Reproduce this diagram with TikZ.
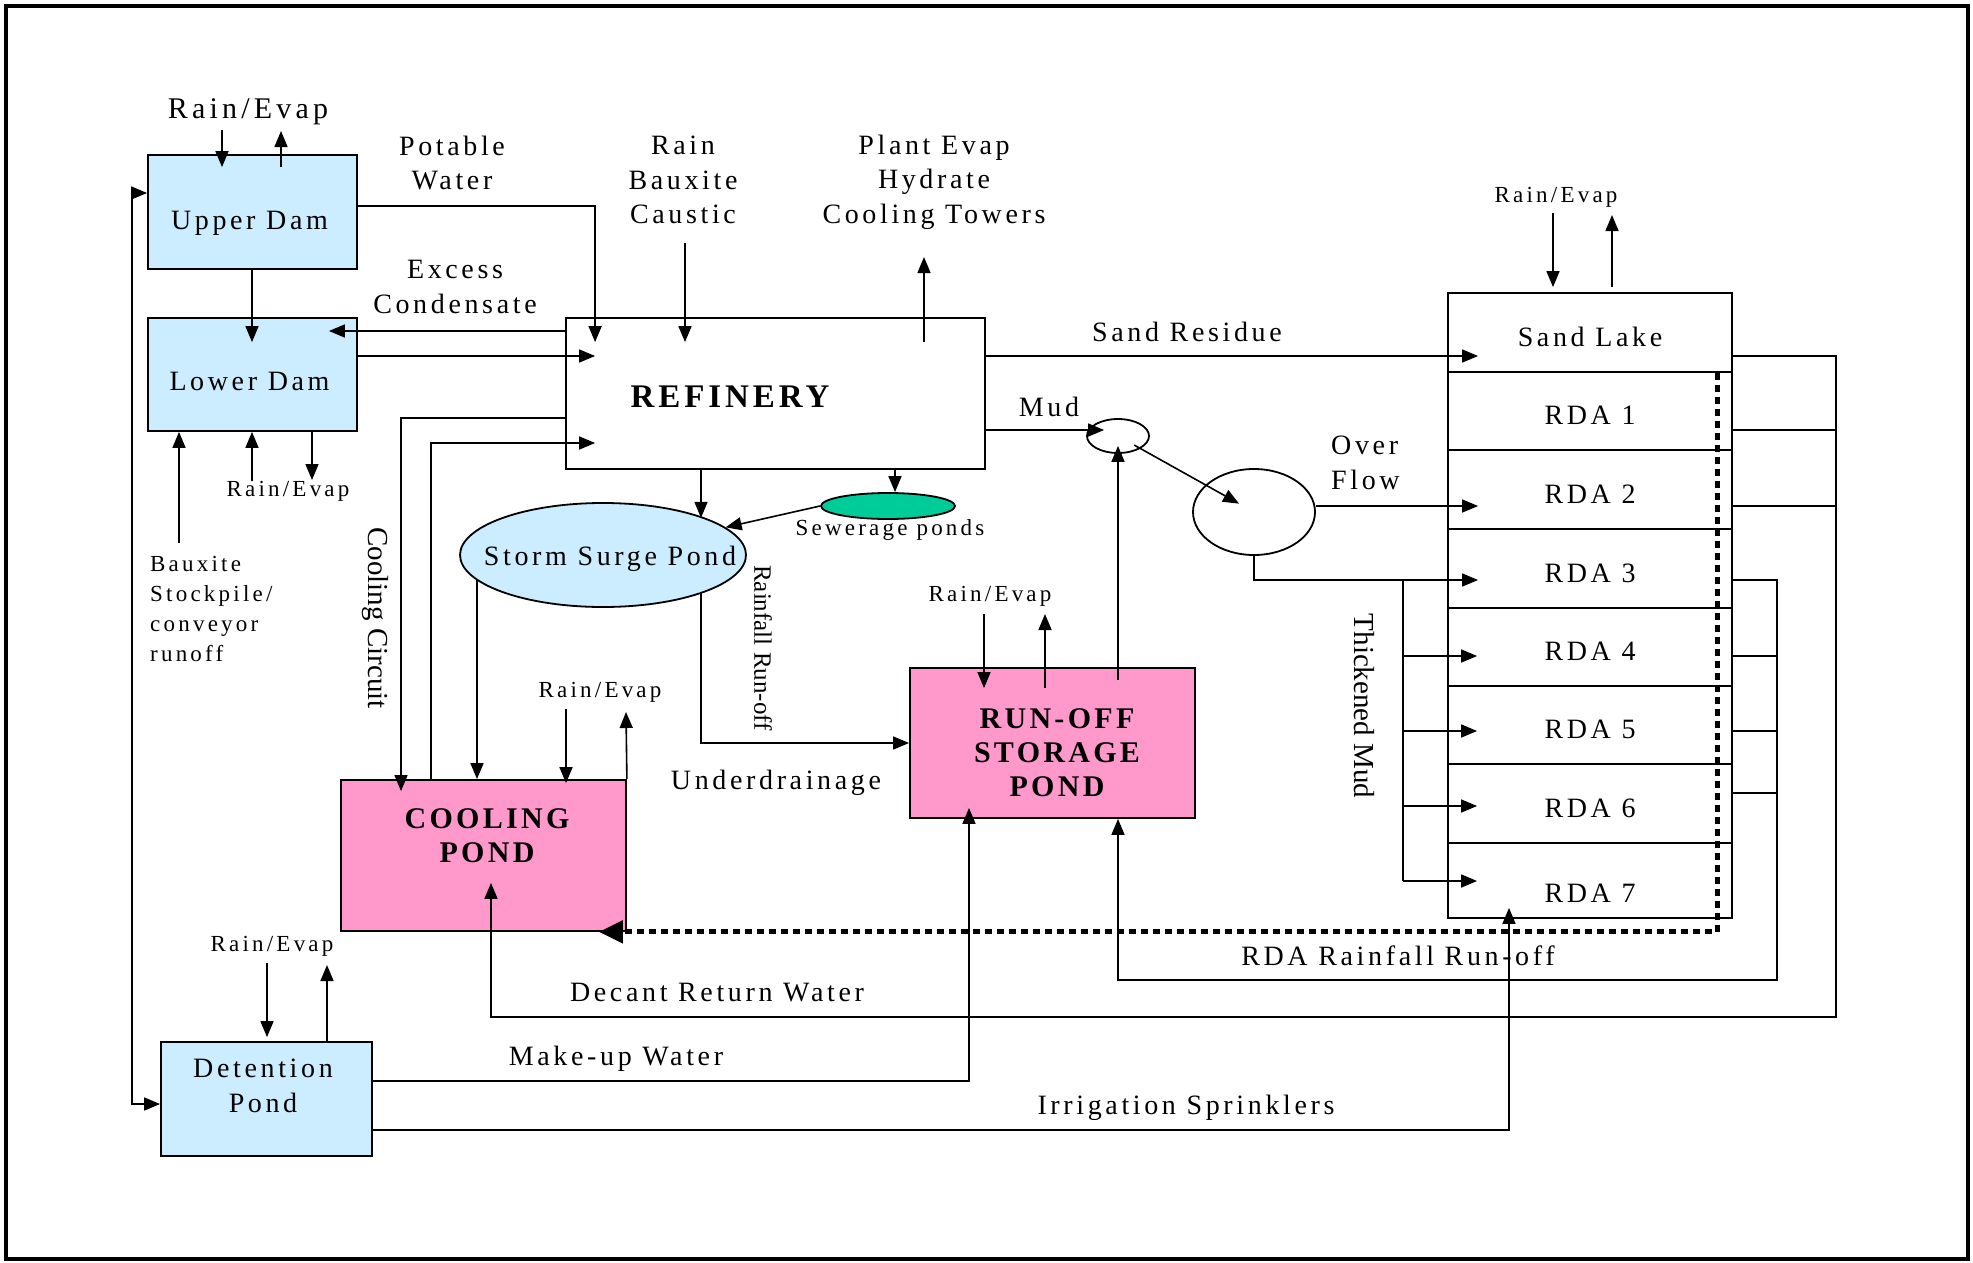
\documentclass[tikz,border=0pt]{standalone}
\usepackage{fontspec}
\setmainfont{Liberation Serif}
\newfontfamily\fbig[LetterSpace=13]{Liberation Serif}
\newfontfamily\fsmall[LetterSpace=14]{Liberation Serif}
\newfontfamily\fbold[LetterSpace=11]{Liberation Serif}
\newfontfamily\frefine[LetterSpace=12]{Liberation Serif}
\usetikzlibrary{arrows.meta,shapes.geometric,calc}
\definecolor{lblue}{HTML}{CCECFF}
\definecolor{pondpink}{HTML}{FF99CC}
\definecolor{sewgreen}{HTML}{00CC99}
\tikzset{
  conn/.style={line width=1.6pt},
  arr/.style={conn, -{Triangle[length=16pt,width=13pt]}},
  arrboth/.style={conn, {Triangle[length=16pt,width=13pt]}-{Triangle[length=16pt,width=13pt]}},
  dotarr/.style={line width=5pt, dash pattern=on 7pt off 5pt, -{Triangle[length=24pt,width=22pt]}},
  boxshape/.style={draw, line width=1.8pt, inner sep=0pt},
  bigtxt/.style={inner sep=0pt, align=center, font=\fbig\fontsize{28}{34.5}\selectfont},
  smalltxt/.style={inner sep=0pt, align=center, font=\fsmall\fontsize{23}{30}\selectfont},
  boldtxt/.style={inner sep=0pt, align=center, font=\fbold\bfseries\fontsize{30}{34}\selectfont},
  plaintxt/.style={inner sep=0pt, font=\fontsize{29}{32}\selectfont},
  rdarow/.style={boxshape, minimum width=284pt, text height=27pt, text depth=0pt, font=\fbig\fontsize{28}{34.5}\selectfont},
}
\begin{document}
\begin{tikzpicture}[x=1pt,y=-1pt]
\useasboundingbox (0,0) rectangle (1973,1263);
\fill[white] (0,0) rectangle (1973,1263);
\draw[line width=4pt] (6,6) rectangle (1968,1259);

% ---------- boxes ----------
\node[boxshape, fill=lblue, minimum width=209pt, minimum height=114pt, text height=34.5pt, text depth=0pt, font=\fbig\fontsize{28}{34.5}\selectfont] (upper) at (252.5,212) {Upper Dam\hspace*{6pt}};
\node[boxshape, fill=lblue, minimum width=209pt, minimum height=113pt, text height=32.5pt, text depth=0pt, font=\fbig\fontsize{28}{34.5}\selectfont] (lower) at (252.5,374.5) {Lower Dam\hspace*{6pt}};
\node[boxshape, fill=white, minimum width=419pt, minimum height=151pt] (refinery) at (775.5,393.5) {};
\node[inner sep=0pt, font=\frefine\bfseries\fontsize{33}{36}\selectfont] (reflabel) at (730,397) {REFINERY};
\node[boxshape, ellipse, fill=lblue, minimum width=286pt, minimum height=104pt] (storm) at (603,555) {};
\node[bigtxt] (stormlabel) at (610,559) {Storm Surge Pond};
\node[boxshape, ellipse, fill=sewgreen, minimum width=134pt, minimum height=26pt] (sew) at (888,506) {};
\node[boxshape, ellipse, minimum width=62pt, minimum height=34pt] (mix) at (1118,436) {};
\node[boxshape, ellipse, minimum width=122pt, minimum height=86pt] (thick) at (1254,512) {};
\node[boxshape, fill=pondpink, minimum width=285pt, minimum height=151pt] (cooling) at (483.5,855.5) {};
\node[boldtxt] (coolinglabel) at (487,836) {COOLING\\POND};
\node[boxshape, fill=pondpink, minimum width=285pt, minimum height=150pt] (runoff) at (1052.5,743) {};
\node[boldtxt] (runofflabel) at (1057,753) {RUN-OFF\\STORAGE\\POND};
\node[boxshape, fill=lblue, minimum width=211pt, minimum height=114pt] (detention) at (266.5,1099) {};
\node[bigtxt] (detlabel) at (263,1086) {Detention\\Pond};

\node[rdarow, minimum height=79pt] (sand) at (1590,332.5) {Sand Lake};
\node[rdarow, minimum height=78pt] (rda1) at (1590,411) {RDA 1};
\node[rdarow, minimum height=79pt] (rda2) at (1590,489.5) {RDA 2};
\node[rdarow, minimum height=79pt] (rda3) at (1590,568.5) {RDA 3};
\node[rdarow, minimum height=78pt] (rda4) at (1590,647) {RDA 4};
\node[rdarow, minimum height=78pt] (rda5) at (1590,725) {RDA 5};
\node[rdarow, minimum height=79pt] (rda6) at (1590,803.5) {RDA 6};
\node[rdarow, minimum height=75pt, text height=43pt] (rda7) at (1590,880.5) {RDA 7};

% ---------- labels ----------
\node[inner sep=0pt, font=\fsmall\fontsize{30}{34}\selectfont] (lab_udre) at (248,112) {Rain/Evap};
\node[bigtxt] (lab_pot) at (452,163) {Potable\\Water};
\node[bigtxt] (lab_exc) at (455,287) {Excess\\Condensate};
\node[bigtxt] (lab_rbc) at (683,180) {Rain\\Bauxite\\Caustic};
\node[bigtxt] (lab_pe) at (934,182) {Plant Evap\\Hydrate\\Cooling Towers};
\node[bigtxt] (lab_sand) at (1187,332) {Sand Residue};
\node[bigtxt] (lab_mud) at (1049,407) {Mud};
\node[bigtxt, align=left, anchor=west] (lab_over) at (1331,463) {Over\\Flow};
\node[smalltxt] (lab_slre) at (1556,197) {Rain/Evap};
\node[smalltxt] (lab_ldre) at (288,491) {Rain/Evap};
\node[smalltxt, align=left, anchor=north west] (lab_baux) at (150,556) {Bauxite\\Stockpile/\\conveyor\\runoff};
\node[plaintxt, rotate=-90] (lab_cc) at (375,618) {Cooling Circuit};
\node[smalltxt] (lab_sew) at (890,530) {Sewerage ponds};
\node[inner sep=0pt, rotate=-90, font=\fontsize{25}{28}\selectfont] (lab_rro) at (763,648) {Rainfall Run-off};
\node[smalltxt] (lab_cpre) at (600,692) {Rain/Evap};
\node[bigtxt] (lab_under) at (776,783) {Underdrainage};
\node[smalltxt] (lab_rore) at (990,596) {Rain/Evap};
\node[plaintxt, rotate=-90] (lab_tm) at (1364,706) {Thickened Mud};
\node[bigtxt] (lab_rdarr) at (1398,956) {RDA Rainfall Run-off};
\node[bigtxt] (lab_dec) at (717,993) {Decant Return Water};
\node[bigtxt] (lab_make) at (616,1059) {Make-up Water};
\node[bigtxt] (lab_irr) at (1186,1108) {Irrigation Sprinklers};
\node[smalltxt] (lab_dpre) at (272,946) {Rain/Evap};

% ---------- helper coordinates ----------
\coordinate (ud_rain) at (222,130);
\coordinate (ud_evap) at (281,131);
\coordinate (rbc) at (685,243);
\coordinate (pe) at (924,257);
\coordinate (xcc) at (401,0);
\coordinate (xcr) at (431,0);
\coordinate (bx) at (179,543);
\coordinate (ld_rain) at (252,481);
\coordinate (ld_evap) at (312,480);
\coordinate (xleft) at (132,0);
\coordinate (xrs) at (701,0);
\coordinate (xsew) at (895,0);
\coordinate (sc) at (477,580);
\coordinate (sr) at (701,593);
\coordinate (cp_rain) at (566,709);
\coordinate (cp_evap) at (626,712);
\coordinate (ro_rain) at (984,614);
\coordinate (ro_evap) at (1045,614);
\coordinate (dp_rain) at (267,963);
\coordinate (dp_evap) at (327,965);
\coordinate (tmx) at (1403,580);
\coordinate (sl_rain) at (1553,213);
\coordinate (sl_evap) at (1612,215);
\coordinate (xo) at (1836,0);
\coordinate (xi) at (1777,0);
\coordinate (xdec) at (491,0);
\coordinate (xdot) at (1717,0);
\coordinate (xmake) at (969,0);
\coordinate (xirr) at (1509,0);

% ---------- connectors ----------
\draw[arr, shorten >=-13pt] (ud_rain) -- (ud_rain |- upper.north);
\draw[arr, shorten <=-13pt] (ud_evap |- upper.north) -- (ud_evap);
\draw[arr, shorten >=-25pt] (upper.south -| 252,0) -- (lower.north -| 252,0);
\draw[arr, shorten >=-25pt] (upper.east |- 0,206) -| ([xshift=30pt]refinery.north west);
\draw[arr, shorten >=-29pt] (refinery.west |- 0,331) -- (lower.east |- 0,331);
\draw[arr, shorten >=-30pt] (lower.east |- 0,356) -- (refinery.west |- 0,356);
\draw[arr, shorten >=-25pt] (rbc) -- (rbc |- refinery.north);
\draw[arr, shorten <=-25pt] (pe |- refinery.north) -- (pe);
\draw[arr, shorten >=-12pt] (refinery.west |- 0,418) -| (cooling.north -| xcc);
\draw[arr, shorten >=-30pt] (cooling.north -| xcr) |- (refinery.west |- 0,443);
\draw[arr] (bx) -- (bx |- lower.south);
\draw[arr] (ld_rain) -- (ld_rain |- lower.south);
\draw[arr] (ld_evap |- lower.south) -- (ld_evap);
\draw[arrboth] (upper.west |- 0,193) -| (xleft |- 0,650) |- (detention.west |- 0,1104);
\draw[arr] (refinery.south -| xrs) -- ++(0,48);
\draw[arr] (refinery.south -| xsew) -- (sew.north -| xsew);
\draw[arr] (sew.west) -- (storm);
\draw[arr] (sc) -- (sc |- cooling.north);
\draw[arr] (sr) |- (runoff.west);
\draw[arr, shorten >=-4pt] (cp_rain) -- (cp_rain |- cooling.north);
\draw[arr] (cooling.north east) -- (cp_evap);
\draw[arr, shorten >=-21pt] (ro_rain) -- (ro_rain |- runoff.north);
\draw[arr, shorten <=-21pt] (ro_evap |- runoff.north) -- (ro_evap);
\draw[arr, shorten >=4pt] (dp_rain) -- (dp_rain |- detention.north);
\draw[arr] (dp_evap |- detention.north) -- (dp_evap);
\draw[arr, shorten <=-13pt, shorten >=-8pt] (runoff.north -| mix.south) -- (mix.south);
\draw[arr, shorten >=-18pt] (refinery.east |- 0,430) -- (mix.west |- 0,430);
\draw[arr] ($(mix.center)!0.12!(thick.center)$) -- ($(mix.center)!0.89!(thick.center)$);
\draw[arr, shorten >=-31pt] (thick.east |- 0,506) -- (rda2.west |- 0,506);
\draw[arr, shorten >=-31pt] (thick.south) |- (rda3.west |- 0,580);
\draw[conn] (tmx) -- (tmx |- 0,881);
\foreach \yy in {656,731,806,881} {
  \draw[arr, shorten >=-30pt] (tmx |- 0,\yy) -- (rda3.west |- 0,\yy);
}
\draw[arr, shorten >=-31pt] (refinery.east |- 0,356) -- (sand.west |- 0,356);
\draw[arr, shorten >=5pt] (sl_rain) -- (sl_rain |- sand.north);
\draw[arr, shorten <=5pt] (sl_evap |- sand.north) -- (sl_evap);
% decant return water
\draw[arr, shorten >=-49pt] (sand.east |- 0,356) -| (xo |- 0,1017) -| (cooling.south -| xdec);
\draw[conn] (rda1.east |- 0,430) -- (xo |- 0,430);
\draw[conn] (rda2.east |- 0,506) -- (xo |- 0,506);
% RDA rainfall run-off
\draw[arr] (rda3.east |- 0,580) -| (xi |- 0,980) -| (runoff.south -| mix.south);
\foreach \yy in {656,731,793} {
  \draw[conn] (rda3.east |- 0,\yy) -- (xi |- 0,\yy);
}
% dotted return
\draw[dotarr, shorten >=-28pt] (sand.south -| xdot) -- (xdot |- cooling.south) -- (cooling.south east);
% make-up water and irrigation
\draw[arr, shorten >=-11pt] (detention.east |- 0,1081) -| (runoff.south -| xmake);
\draw[arr, shorten >=-11pt] (detention.east |- 0,1130) -| (rda7.south -| xirr);
\end{tikzpicture}
\end{document}
